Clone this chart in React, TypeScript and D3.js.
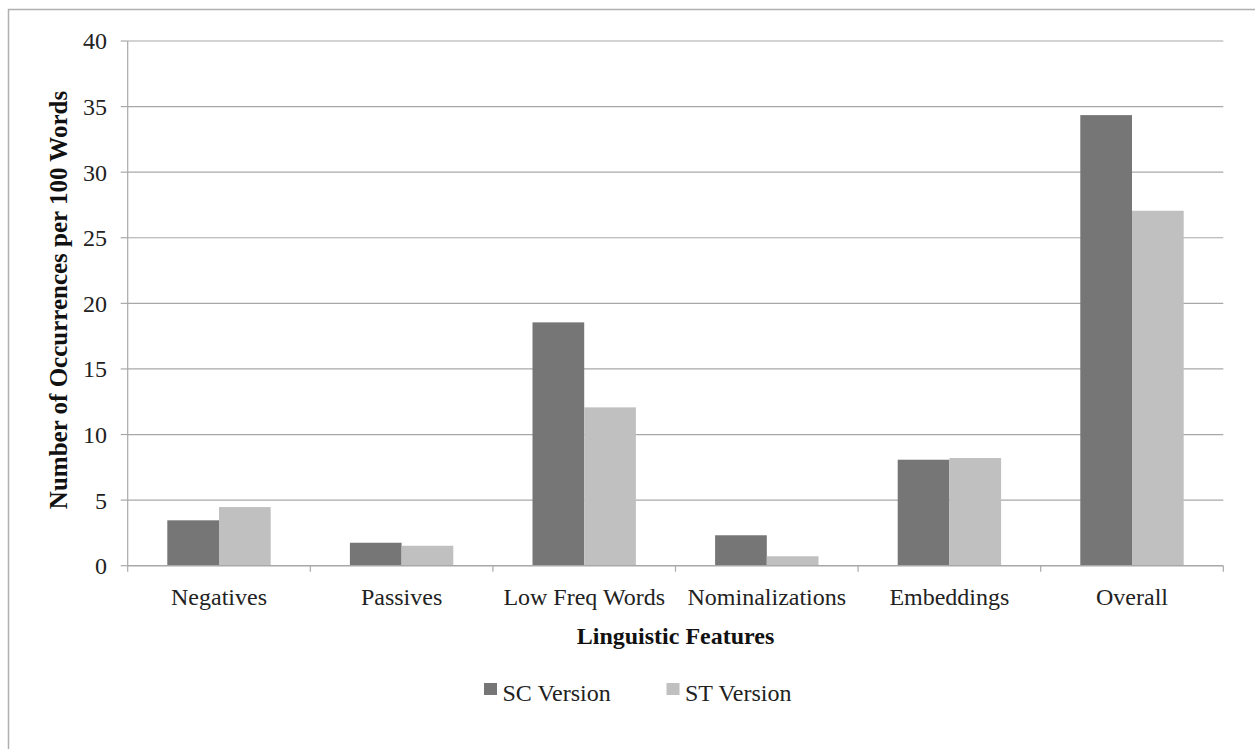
import React from "react";
import * as d3 from "d3";

const categories = ["Negatives", "Passives", "Low Freq Words", "Nominalizations", "Embeddings", "Overall"];
const seriesNames = ["SC Version", "ST Version"];
const scValues = [3.46, 1.75, 18.55, 2.32, 8.08, 34.35];
const stValues = [4.47, 1.52, 12.07, 0.72, 8.21, 27.06];
const yTicks = [0, 5, 10, 15, 20, 25, 30, 35, 40];
const colors = ["#767676", "#c0c0c0"];

const W = 1255;
const H = 749;
const FONT = "'Liberation Serif', 'Times New Roman', serif";

export default function App() {
  const left = 127.7;
  const right = 1223.3;
  const top = 41;
  const bottom = 565.7;

  const x = d3.scaleBand<string>().domain(categories).range([left, right]).paddingInner(0).paddingOuter(0);
  const bw = x.bandwidth();
  const pad = 39.6;
  const xs = d3.scaleBand<number>().domain([0, 1]).range([pad, bw - pad]).padding(0);
  const y = d3.scaleLinear().domain([0, 40]).range([bottom, top]);

  const seriesVals = [scValues, stValues];
  const gridColor = "#a8a8a8";

  return (
    <svg width={W} height={H} style={{ position: "absolute", left: 0, top: 0, background: "#fff" }}>
      <rect x={8.5} y={9.5} width={W + 20} height={H + 20} fill="#fff" stroke="#b0b0b0" strokeWidth={1.5} />
      {/* gridlines */}
      {yTicks.map((t) => (
        <g key={t}>
          {t !== 0 && (
            <line x1={left} x2={right} y1={y(t)} y2={y(t)} stroke={gridColor} strokeWidth={1.2} />
          )}
          <line x1={left - 7} x2={left} y1={y(t)} y2={y(t)} stroke={gridColor} strokeWidth={1.2} />
          <text
            x={107}
            y={y(t)}
            dy="0.35em"
            textAnchor="end"
            fontFamily={FONT}
            fontSize={24}
            fill="#222"
          >
            {t}
          </text>
        </g>
      ))}
      {/* bars */}
      {categories.map((c, i) => (
        <g key={c}>
          {seriesVals.map((vals, s) => (
            <rect
              key={s}
              x={(x(c) as number) + (xs(s) as number)}
              y={y(vals[i])}
              width={xs.bandwidth()}
              height={bottom - y(vals[i])}
              fill={colors[s]}
            />
          ))}
        </g>
      ))}
      {/* axes */}
      <line x1={left} x2={left} y1={top} y2={bottom} stroke={gridColor} strokeWidth={1.2} />
      <line x1={left} x2={right} y1={bottom} y2={bottom} stroke={gridColor} strokeWidth={1.5} />
      {[...categories.map((c) => x(c) as number), right].map((v, i) => (
        <line key={i} x1={v} x2={v} y1={bottom} y2={bottom + 6} stroke={gridColor} strokeWidth={1.2} />
      ))}
      {categories.map((c) => (
        <text
          key={c}
          x={(x(c) as number) + bw / 2}
          y={605}
          textAnchor="middle"
          fontFamily={FONT}
          fontSize={24}
          fill="#222"
        >
          {c}
        </text>
      ))}
      <text
        x={(left + right) / 2}
        y={644}
        textAnchor="middle"
        fontFamily={FONT}
        fontSize={24}
        fontWeight="bold"
        fill="#111"
      >
        Linguistic Features
      </text>
      <text
        transform={`translate(67,300) rotate(-90)`}
        textAnchor="middle"
        fontFamily={FONT}
        fontSize={25}
        fontWeight="bold"
        fill="#111"
      >
        Number of Occurrences per 100 Words
      </text>
      {/* legend */}
      {seriesNames.map((n, s) => {
        const lx = s === 0 ? 484 : 666.5;
        return (
          <g key={n}>
            <rect x={lx} y={683} width={13} height={12} fill={colors[s]} />
            <text x={lx + 18.5} y={701} fontFamily={FONT} fontSize={24} fill="#222">
              {n}
            </text>
          </g>
        );
      })}
    </svg>
  );
}
